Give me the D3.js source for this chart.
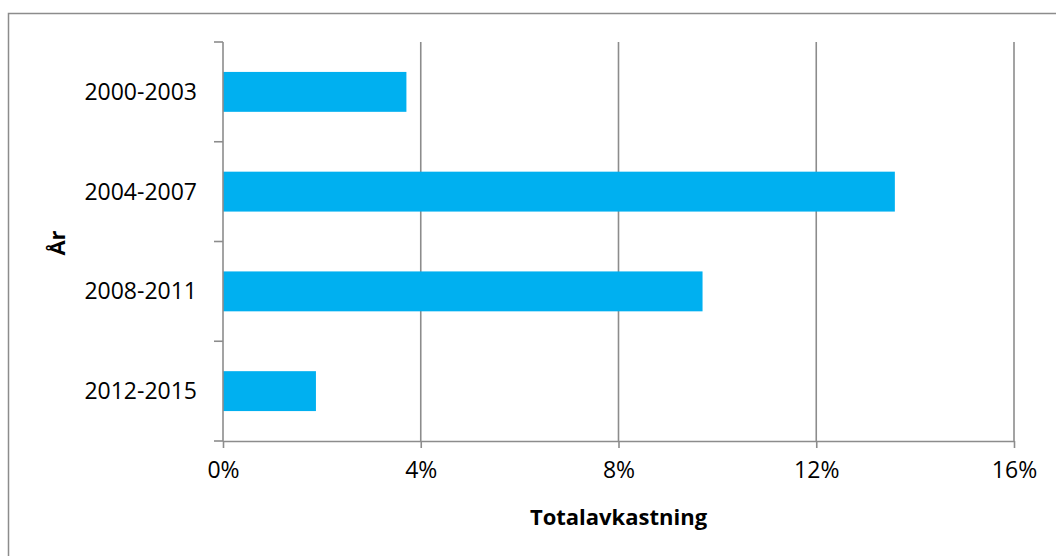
<!DOCTYPE html>
<html>
<head>
<meta charset="utf-8">
<script src="https://cdn.jsdelivr.net/npm/d3@7"></script>
<style>
  html, body { margin: 0; padding: 0; background: #fff; }
  svg { display: block; font-family: "Open Sans", "Noto Sans", sans-serif; }
</style>
</head>
<body>
<svg id="chart" width="1056" height="556"></svg>
<script>
// Average total return per period
const periods = ["2000-2003", "2004-2007", "2008-2011", "2012-2015"];
const returns = [3.71, 13.59, 9.70, 1.88];
const xTicks = [0, 4, 8, 12, 16];
const xTitle = "Totalavkastning";
const yTitle = "År";

const svg = d3.select("#chart");
const W = 1056, H = 556;
const plot = { left: 223, right: 1014, top: 42, bottom: 441 };
const axisColor = "#8c8c8c";

// Outer frame (cropped at right and bottom)
svg.append("rect")
  .attr("x", 8.5).attr("y", 13.5)
  .attr("width", W + 10).attr("height", H + 10)
  .attr("fill", "#fff").attr("stroke", "#8c8c8c").attr("stroke-width", 1.5);

const x = d3.scaleLinear().domain([0, 16]).range([plot.left, plot.right]);
const y = d3.scaleBand().domain(periods).range([plot.top, plot.bottom])
  .paddingInner(0.6).paddingOuter(0.3);

// Vertical gridlines
svg.append("g")
  .selectAll("line")
  .data(xTicks.filter(t => t > 0))
  .join("line")
  .attr("x1", d => x(d)).attr("x2", d => x(d))
  .attr("y1", plot.top).attr("y2", plot.bottom)
  .attr("stroke", axisColor).attr("stroke-width", 1.6);

// Bars
svg.append("g")
  .selectAll("rect")
  .data(periods)
  .join("rect")
  .attr("x", x(0))
  .attr("y", d => y(d))
  .attr("width", (d, i) => x(returns[i]) - x(0))
  .attr("height", y.bandwidth())
  .attr("fill", "#00b0f0");

// X axis
const xAxis = svg.append("g")
  .attr("transform", `translate(0,${plot.bottom})`)
  .call(d3.axisBottom(x).tickValues(xTicks).tickFormat(d => d + "%")
    .tickSize(7).tickSizeOuter(0).tickPadding(14));
xAxis.select(".domain").attr("stroke", axisColor).attr("stroke-width", 1.6);
xAxis.selectAll(".tick line").attr("stroke", axisColor).attr("stroke-width", 1.6);
xAxis.selectAll(".tick text")
  .attr("fill", "#000").style("font-size", "23px").style("font-family", "Open Sans");

// Y axis: ticks sit between the categories
const yAxisG = svg.append("g");
yAxisG.append("line")
  .attr("x1", plot.left).attr("x2", plot.left)
  .attr("y1", plot.top).attr("y2", plot.bottom)
  .attr("stroke", axisColor).attr("stroke-width", 1.6);
const step = (plot.bottom - plot.top) / periods.length;
yAxisG.selectAll("line.tk")
  .data(d3.range(periods.length + 1))
  .join("line")
  .attr("class", "tk")
  .attr("x1", plot.left - 9).attr("x2", plot.left)
  .attr("y1", i => plot.top + i * step).attr("y2", i => plot.top + i * step)
  .attr("stroke", axisColor).attr("stroke-width", 1.6);
yAxisG.selectAll("text")
  .data(periods)
  .join("text")
  .attr("x", plot.left - 26)
  .attr("y", d => y(d) + y.bandwidth() / 2)
  .attr("dy", "0.35em")
  .attr("text-anchor", "end")
  .style("font-size", "23px")
  .text(d => d);

// Axis titles
svg.append("text")
  .attr("x", (plot.left + plot.right) / 2)
  .attr("y", 525)
  .attr("text-anchor", "middle")
  .style("font-size", "22px").style("font-weight", "bold")
  .text(xTitle);

svg.append("text")
  .attr("transform", `translate(65,243) rotate(-90)`)
  .attr("text-anchor", "middle")
  .style("font-size", "22px").style("font-weight", "bold")
  .text(yTitle);
</script>
</body>
</html>
